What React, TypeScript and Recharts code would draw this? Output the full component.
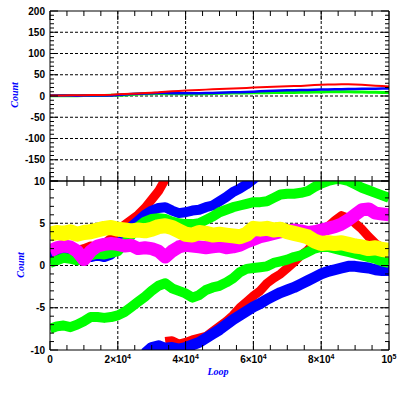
import React from 'react';
import { LineChart, Line, XAxis, YAxis, CartesianGrid } from 'recharts';

// loop counter, sampled every 2000
const loops = [
  0, 2000, 4000, 6000, 8000, 10000, 12000, 14000, 16000, 18000,
  20000, 22000, 24000, 26000, 28000, 30000, 32000, 34000, 36000, 38000,
  40000, 42000, 44000, 46000, 48000, 50000, 52000, 54000, 56000, 58000,
  60000, 62000, 64000, 66000, 68000, 70000, 72000, 74000, 76000, 78000,
  80000, 82000, 84000, 86000, 88000, 90000, 92000, 94000, 96000, 98000, 100000,
];

const redUpper = [
  1.2, 1.4, 1.3, 1.6, 1.8, 2.0, 2.3, 2.2, 2.6, 3.2,
  4.2, 4.8, 5.4, 6.0, 6.8, 7.8, 8.8, 10.2, 11.1, 12.0,
  12.8, 13.6, 14.4, 15.0, 15.6, 16.2, 16.8, 17.6, 18.4, 19.0,
  19.8, 20.4, 21.2, 21.8, 22.4, 23.0, 23.4, 23.8, 24.6, 25.6,
  26.4, 26.8, 27.2, 27.4, 27.6, 27.2, 26.4, 25.4, 24.4, 23.4, 22.6,
];

const redLower = [
  null, null, null, null, null, null, null, null, null, null,
  null, null, null, null, null, null, null, -9.0, -8.9, -9.3,
  -9.1, -8.8, -8.6, -8.4, -7.8, -7.2, -6.6, -5.9, -5.0, -4.3,
  -3.6, -3.0, -2.1, -1.5, -1.0, -0.3, 0.4, 1.2, 1.8, 2.6,
  3.8, 4.6, 5.3, 5.9, 5.6, 5.0, 4.3, 3.4, 2.6, 2.1, 1.8,
];

const blueUpper = [
  1.0, 1.2, 1.4, 1.0, 0.7, 0.9, 1.0, 1.2, 1.0, 1.3,
  2.2, 3.4, 4.6, 5.3, 6.0, 6.5, 6.8, 6.9, 6.5, 6.2,
  6.3, 6.5, 6.6, 6.9, 7.1, 7.6, 8.1, 8.7, 9.1, 9.6,
  10.2, 10.9, 11.6, 12.2, 12.8, 13.3, 13.7, 14.0, 14.4, 14.8,
  15.2, 15.5, 15.7, 15.9, 16.2, 16.5, 16.8, 17.0, 17.2, 17.4, 17.5,
];

const blueLower = [
  null, null, null, null, null, null, null, null, null, null,
  null, null, null, null, -10.4, -9.7, -9.5, -9.8, -9.7, -9.9,
  -9.7, -9.4, -9.1, -8.6, -8.1, -7.6, -7.0, -6.4, -5.9, -5.4,
  -4.9, -4.5, -4.0, -3.6, -3.2, -2.9, -2.6, -2.2, -1.8, -1.4,
  -1.0, -0.7, -0.5, -0.3, -0.1, -0.1, -0.2, -0.3, -0.5, -0.6, -0.6,
];

const greenUpper = [
  0.3, 0.6, 0.9, 0.8, 0.6, 1.0, 1.2, 1.4, 1.3, 1.5,
  1.7, 2.6, 3.6, 4.6, 5.2, 5.5, 5.6, 5.5, 5.2, 5.0,
  4.9, 4.9, 5.0, 5.4, 5.8, 6.3, 6.6, 6.9, 7.1, 7.3,
  7.5, 7.5, 7.6, 8.0, 8.4, 8.5, 8.5, 8.6, 8.8, 9.3,
  9.7, 10.0, 10.2, 10.2, 10.0, 9.6, 9.2, 8.9, 8.6, 8.3, 8.0,
];

const greenLower = [
  -7.5, -7.2, -7.1, -7.3, -7.0, -6.6, -6.1, -6.1, -6.2, -6.1,
  -5.9, -5.5, -4.9, -4.3, -3.7, -3.0, -2.4, -2.1, -2.7, -3.0,
  -3.3, -3.8, -3.5, -2.9, -2.6, -2.4, -2.0, -1.5, -0.8, -0.4,
  -0.3, -0.2, -0.1, 0.3, 0.5, 0.7, 1.0, 1.2, 1.6, 2.0,
  2.2, 2.2, 2.0, 1.8, 1.6, 1.4, 1.2, 1.0, 0.8, 0.5, 0.3,
];

const yellow = [
  3.7, 3.9, 3.8, 4.0, 3.7, 3.9, 4.0, 4.2, 4.4, 4.5,
  4.3, 4.2, 4.1, 4.2, 4.1, 4.3, 4.6, 4.7, 4.5, 4.1,
  3.7, 3.6, 3.9, 3.8, 3.6, 3.7, 3.6, 3.5, 3.4, 3.7,
  4.4, 4.3, 4.4, 4.2, 4.3, 4.0, 3.8, 3.6, 3.4, 2.9,
  2.6, 2.7, 2.6, 2.7, 2.5, 2.3, 2.2, 2.0, 2.1, 1.9, 1.8,
];

const magenta = [
  1.7, 2.1, 2.3, 2.2, 1.7, 0.7, 1.7, 2.3, 2.5, 2.6,
  2.5, 2.3, 2.4, 2.0, 2.1, 2.0, 1.7, 1.0, 1.7, 2.2,
  2.4, 2.3, 2.2, 2.1, 2.2, 2.3, 2.1, 2.2, 2.4, 2.8,
  3.1, 3.4, 3.6, 3.8, 4.0, 4.1, 4.2, 4.1, 3.9, 4.0,
  4.2, 4.4, 4.6, 4.9, 5.4, 6.0, 6.6, 6.7, 6.2, 6.1, 6.0,
];

// axis ticks
const xMinorTicks = [
  0, 5000, 10000, 15000, 20000, 25000, 30000, 35000, 40000, 45000, 50000,
  55000, 60000, 65000, 70000, 75000, 80000, 85000, 90000, 95000, 100000,
];
const xGrid = [20000, 40000, 60000, 80000];
const xLabelValues = [0, 20000, 40000, 60000, 80000, 100000];
const xLabelBase = ['0', '2×10', '4×10', '6×10', '8×10', '10'];
const xLabelExp = ['', '4', '4', '4', '4', '5'];

const topYTicks = Array.from({ length: 41 }, (_, i) => -200 + i * 10);
const topYLabels = [-150, -100, -50, 0, 50, 100, 150, 200];
const topYGrid = [-150, -100, -50, 0, 50, 100, 150];

const botYTicks = Array.from({ length: 21 }, (_, i) => -10 + i);
const botYLabels = [-10, -5, 0, 5, 10];
const botYGrid = [-5, 0, 5];

const rows = loops.map((loop, i) => ({
  loop,
  redUpper: redUpper[i],
  redLower: redLower[i],
  blueUpper: blueUpper[i],
  blueLower: blueLower[i],
  greenUpper: greenUpper[i],
  greenLower: greenLower[i],
  yellow: yellow[i],
  magenta: magenta[i],
}));

const tickFont: React.CSSProperties = {
  fontFamily: '"Liberation Sans", Arial, sans-serif',
  fontWeight: 'bold',
  fontSize: 10,
  fill: '#000',
};

const labelFont: React.CSSProperties = {
  position: 'absolute',
  fontFamily: '"Liberation Serif", serif',
  fontStyle: 'italic',
  fontWeight: 'bold',
  fontSize: 10,
  color: '#0000ff',
  whiteSpace: 'nowrap',
  lineHeight: '10px',
};

const yTick = (side: 'left' | 'right', step: number, labelled: number[]) => (p: any) => {
  const v = p.payload.value;
  const major = Math.abs(v) % step === 0;
  const len = major ? 8 : 4;
  const d = side === 'left' ? 1 : -1;
  return (
    <g>
      <line x1={p.x} y1={p.y} x2={p.x + d * len} y2={p.y} stroke="#000" />
      {side === 'left' && labelled.includes(v) && (
        <text x={p.x - 5} y={p.y} dy="0.36em" textAnchor="end" style={tickFont}>
          {v}
        </text>
      )}
    </g>
  );
};

const xTick = (side: 'top' | 'bottom', withLabels: boolean) => (p: any) => {
  const v = p.payload.value;
  const major = v % 20000 === 0;
  const len = major ? 9 : 5;
  const d = side === 'top' ? 1 : -1;
  const li = xLabelValues.indexOf(v);
  return (
    <g>
      <line x1={p.x} y1={p.y} x2={p.x} y2={p.y + d * len} stroke="#000" />
      {withLabels && li >= 0 && (
        <text x={p.x} y={p.y + 13} textAnchor="middle" style={tickFont}>
          {xLabelBase[li]}
          {xLabelExp[li] && (
            <tspan dy={-4} fontSize={7}>
              {xLabelExp[li]}
            </tspan>
          )}
        </text>
      )}
    </g>
  );
};

const axisCommon = {
  type: 'number' as const,
  tickSize: 0,
  tickMargin: 0,
  tickLine: false,
  interval: 0 as const,
  stroke: '#000',
  allowDataOverflow: true,
};

const series = (key: string, color: string, width: number) => (
  <Line
    key={key}
    dataKey={key}
    stroke={color}
    strokeWidth={width}
    strokeLinejoin="round"
    dot={false}
    activeDot={false}
    isAnimationActive={false}
  />
);

const App: React.FC = () => {
  return (
    <div style={{ position: 'absolute', left: 0, top: 0, width: 399, height: 399, background: '#fff' }}>
      <div style={{ position: 'absolute', left: 0, top: 0 }}>
        <LineChart width={399} height={185} data={rows} margin={{ top: 10, right: 9, bottom: 3, left: 10 }}>
          <CartesianGrid horizontalValues={topYGrid} verticalValues={xGrid} stroke="#000" strokeOpacity={1} strokeDasharray="3 2" />
          <XAxis {...axisCommon} dataKey="loop" domain={[0, 100000]} ticks={xMinorTicks} height={1} tick={xTick('bottom', false)} />
          <XAxis {...axisCommon} xAxisId="t" orientation="top" dataKey="loop" domain={[0, 100000]} ticks={xMinorTicks} height={1} tick={xTick('top', false)} />
          <YAxis {...axisCommon} domain={[-200, 200]} ticks={topYTicks} width={40} tick={yTick('left', 50, topYLabels)} />
          <YAxis {...axisCommon} yAxisId="r" orientation="right" domain={[-200, 200]} ticks={topYTicks} width={1} tick={yTick('right', 50, [])} />
          {series('greenUpper', '#00ff00', 3)}
          {series('blueUpper', '#0000ff', 2.5)}
          {series('redUpper', '#ff0000', 2)}
        </LineChart>
      </div>
      <div style={{ position: 'absolute', left: 0, top: 175 }}>
        <LineChart width={399} height={224} data={rows} margin={{ top: 5, right: 9, bottom: 48, left: 10 }}>
          <CartesianGrid horizontalValues={botYGrid} verticalValues={xGrid} stroke="#000" strokeOpacity={1} strokeDasharray="3 2" />
          <XAxis {...axisCommon} dataKey="loop" domain={[0, 100000]} ticks={xMinorTicks} height={1} tick={xTick('bottom', true)} />
          <XAxis {...axisCommon} xAxisId="t" orientation="top" dataKey="loop" domain={[0, 100000]} ticks={xMinorTicks} height={1} tick={xTick('top', false)} />
          <YAxis {...axisCommon} domain={[-10, 10]} ticks={botYTicks} width={40} tick={yTick('left', 5, botYLabels)} />
          <YAxis {...axisCommon} yAxisId="r" orientation="right" domain={[-10, 10]} ticks={botYTicks} width={1} tick={yTick('right', 5, [])} />
          {series('redUpper', '#ff0000', 9)}
          {series('redLower', '#ff0000', 9)}
          {series('blueUpper', '#0000ff', 10)}
          {series('blueLower', '#0000ff', 11)}
          {series('greenUpper', '#00ff00', 10)}
          {series('greenLower', '#00ff00', 10)}
          {series('magenta', '#ff00ff', 13)}
          {series('yellow', '#ffff00', 15)}
        </LineChart>
      </div>
      <div style={{ ...labelFont, left: 15, top: 95, transform: 'translate(-50%, -50%) rotate(-90deg)' }}>Count</div>
      <div style={{ ...labelFont, left: 21, top: 265, transform: 'translate(-50%, -50%) rotate(-90deg)' }}>Count</div>
      <div style={{ ...labelFont, left: 218, top: 372, transform: 'translate(-50%, -50%)' }}>Loop</div>
    </div>
  );
};

export default App;
